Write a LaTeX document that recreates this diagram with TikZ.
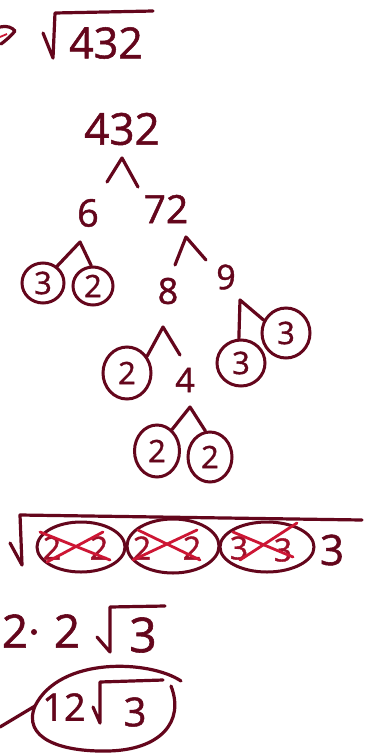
\documentclass[tikz,border=0pt]{standalone}
\usepackage{fontspec}
\setmainfont{Open Sans}
\newfontfamily\handfont[FakeBold=1.2]{Open Sans}
\usetikzlibrary{shapes.geometric}
\definecolor{ink}{RGB}{100,6,28}
\definecolor{pen}{RGB}{205,22,52}

\begin{document}
\begin{tikzpicture}[x=1pt,y=-1pt,
  stroke/.style={draw=ink,line width=3.2pt,line cap=round,line join=round},
  cross/.style={draw=pen,line width=2.8pt,line cap=round},
  num/.style={text=ink,inner sep=0pt,font=\fontsize{#1}{#1}\handfont},
  ring/.style={draw=ink,line width=3pt,ellipse,inner sep=0pt,text=ink,
    font=\fontsize{31}{31}\handfont},
  struck/.style={text=pen!55!ink,inner sep=0pt,font=\fontsize{32}{32}\handfont}]

\fill[white] (0,0) rectangle (366,753);
\useasboundingbox (0,0) rectangle (366,753);

% arrow tip entering from the left edge
\draw[stroke] (0,27) .. controls (7,25) and (13,28) .. (15,31)
  .. controls (10,37) and (5,41) .. (1,44);
\draw[draw=pen,line width=1.8pt] (0,37) -- (7,34);

% the radical to simplify
\node[num=43] (top) at (106,43) {432};
\draw[stroke] (43,33) -- (53,58) -- (55,13) -- (153,11);

% factor tree
\node[num=44] (n432) at (122,129) {432};
\node[num=38] (n6) at (88,213) {6};
\node[num=39] (n72) at (166,209) {72};
\coordinate (k1) at (122,158);
\coordinate (k1l) at (107,182);
\coordinate (k1r) at (138,187);
\draw[stroke] (k1l) -- (k1) -- (k1r);

\node[ring,minimum width=42pt,minimum height=40pt] (c3a) at (43,283) {3};
\node[ring,minimum width=40pt,minimum height=38pt] (c2a) at (93,286) {2};
\coordinate (k2) at (80,242);
\draw[stroke] (c3a.50) -- (k2) -- (c2a.95);

\node[num=36] (n8) at (168,291) {8};
\node[num=34] (n9) at (226,277) {9};
\coordinate (k3) at (186,237);
\coordinate (k3l) at (175,265);
\coordinate (k3r) at (206,260);
\draw[stroke] (k3l) -- (k3) -- (k3r);

\node[ring,minimum width=48pt,minimum height=46pt] (c3b) at (241,363) {3};
\node[ring,minimum width=48pt,minimum height=50pt] (c3c) at (286,333) {3};
\coordinate (k4) at (240,300);
\draw[stroke] (c3b.95) -- (k4) -- (c3c.150);

\node[ring,minimum width=48pt,minimum height=52pt] (c2b) at (127,373) {2};
\node[num=34] (n4) at (185,380) {4};
\coordinate (k5) at (163,327);
\coordinate (k5r) at (180,355);
\draw[stroke] (c2b.40) -- (k5) -- (k5r);

\node[ring,minimum width=45pt,minimum height=52pt] (c2c) at (157,451) {2};
\node[ring,minimum width=44pt,minimum height=50pt] (c2d) at (210,457) {2};
\coordinate (k6) at (190,407);
\draw[stroke] (c2c.55) -- (k6) -- (c2d.100);

% pairs taken out of the radical
\draw[stroke] (10,543) -- (22,565) -- (20,515) -- (362,520);
\node[ring,minimum width=88pt,minimum height=50pt] (e1) at (81,547) {};
\node[ring,minimum width=92pt,minimum height=54pt] (e2) at (173,546) {};
\node[ring,minimum width=94pt,minimum height=50pt] (e3) at (267,547) {};
\node[struck] (a1) at (52,548) {2};
\node[struck] (a2) at (99,548) {2};
\node[struck] (b1) at (142,548) {2};
\node[struck] (b2) at (192,548) {2};
\node[struck] (d1) at (239,548) {3};
\node[struck] (d2) at (283,550) {3};
\draw[cross] (40,532) -- (110,560);
\draw[cross] (47,562) -- (103,532);
\draw[cross] (138,530) -- (200,560);
\draw[cross] (133,560) -- (197,530);
\draw[cross] (233,532) -- (293,557);
\draw[cross] (240,560) -- (297,523);
\node[num=42] (rest) at (332,550) {3};

% product outside the radical
\node[num=46] (p1) at (15,631) {2};
\fill[ink] (34,632) circle (3pt);
\node[num=46] (p2) at (67,631) {2};
\draw[stroke] (97,637) -- (110,652) -- (110,607) -- (165,606);
\node[num=48] (p3) at (143,635) {3};

% final answer
\node[num=38] (f12) at (64,707) {12};
\draw[stroke] (93,707) -- (100,723) -- (100,682) -- (163,680);
\node[num=40] (f3) at (135,712) {3};
\draw[stroke] (181,681) .. controls (150,660) and (60,656) .. (35,706)
  .. controls (22,738) and (60,752) .. (108,751)
  .. controls (160,750) and (185,722) .. (171,686);
\draw[stroke] (35,706) -- (0,727);
\end{tikzpicture}
\end{document}
